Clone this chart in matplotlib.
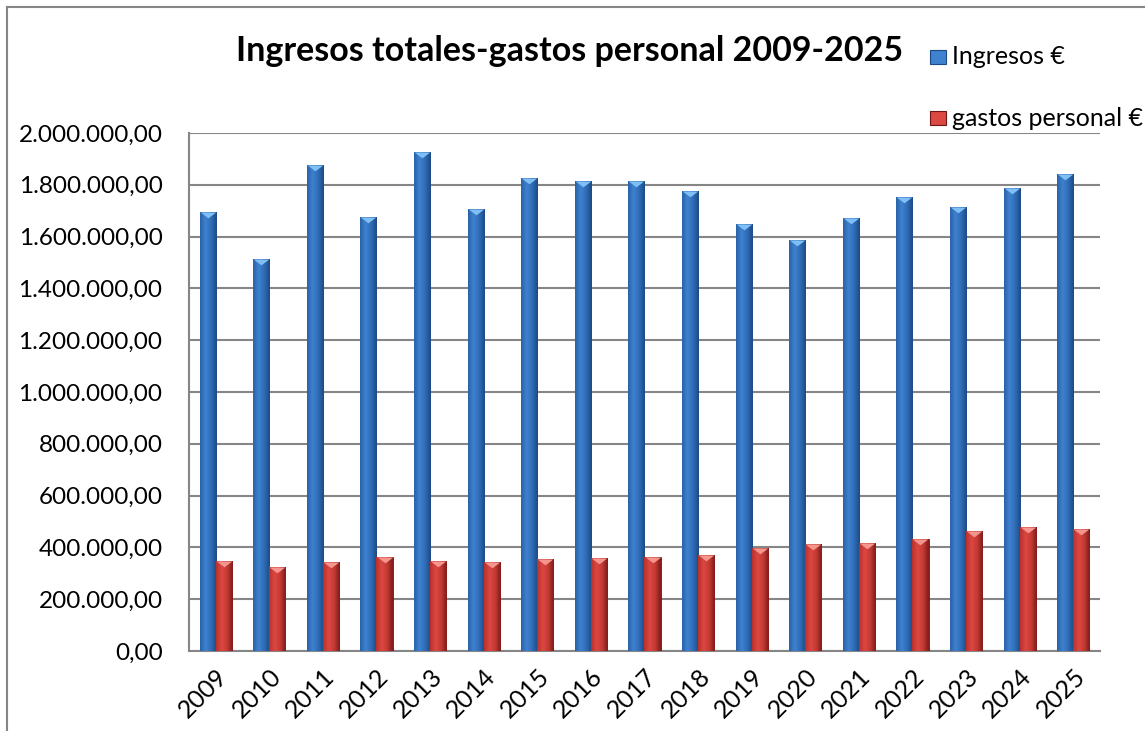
import numpy as np
import matplotlib
matplotlib.use('Agg')
from matplotlib import pyplot as plt
from matplotlib.colors import LinearSegmentedColormap
from matplotlib.ticker import FuncFormatter, MultipleLocator
from matplotlib.patches import Rectangle

plt.rcParams['font.family'] = ['Lato', 'DejaVu Sans']

# Data
years = ['2009', '2010', '2011', '2012', '2013', '2014', '2015', '2016', '2017',
         '2018', '2019', '2020', '2021', '2022', '2023', '2024', '2025']
ingresos = [1696000, 1515000, 1878000, 1676000, 1927000, 1707000, 1826000, 1815000, 1815000,
            1776000, 1649000, 1587000, 1672000, 1754000, 1715000, 1788000, 1843000]
gastos = [346000, 323000, 344000, 362000, 346000, 344000, 354000, 358000, 362000,
          369000, 398000, 413000, 416000, 431000, 462000, 478000, 470000]

title = 'Ingresos totales-gastos personal 2009-2025'
label_ing = 'Ingresos €'
label_gas = 'gastos personal €'

blue_cmap = LinearSegmentedColormap.from_list('b', ['#2a62a8', '#3f82d0', '#2f6cb6', '#1d4a85'])
red_cmap = LinearSegmentedColormap.from_list('r', ['#b8302c', '#dc4842', '#c43a34', '#7e1b1a'])

# flat downward triangle for the bevel at the top of each bar
cap = [(-1, 0), (1, 0), (0, -0.75), (-1, 0)]


def es_fmt(v, pos):
    s = f'{v:,.2f}'
    return s.replace(',', 'X').replace('.', ',').replace('X', '.')


def shade(ax, bars, cmap):
    grad = np.linspace(0, 1, 64).reshape(1, -1)
    for b in bars:
        x0, w, h = b.get_x(), b.get_width(), b.get_height()
        im = ax.imshow(grad, extent=[x0, x0 + w, 0, h], aspect='auto', cmap=cmap,
                       zorder=b.get_zorder() + 0.1, interpolation='bicubic')
        im.set_clip_path(b)


fig = plt.figure(figsize=(11.45, 7.31), dpi=100)
ax = fig.add_axes([0.165, 0.1094, 0.7957, 0.7086])

x = np.arange(len(years))
w = 0.3
b1 = ax.bar(x - w / 2, ingresos, w, color='#2f6cb6', edgecolor='#1d4a85', linewidth=0.6, zorder=3)
b2 = ax.bar(x + w / 2, gastos, w, color='#c43a34', edgecolor='#6e1616', linewidth=0.6, zorder=3)
shade(ax, b1, blue_cmap)
shade(ax, b2, red_cmap)
ax.scatter(x - w / 2, ingresos, marker=cap, s=125, color='#80bff5', linewidths=0, zorder=4)
ax.scatter(x + w / 2, gastos, marker=cap, s=125, color='#f4958e', linewidths=0, zorder=4)

ax.set_xlim(-0.5, len(years) - 0.5)
ax.set_ylim(0, 2000000)
ax.yaxis.set_major_locator(MultipleLocator(200000))
ax.yaxis.set_major_formatter(FuncFormatter(es_fmt))
ax.grid(axis='y', color='#868686', linewidth=1.5, zorder=0)
ax.set_axisbelow(True)
for s in ['top', 'right']:
    ax.spines[s].set_visible(False)
for s in ['left', 'bottom']:
    ax.spines[s].set_color('#868686')
    ax.spines[s].set_linewidth(1.5)
ax.tick_params(axis='y', length=0, pad=19, labelsize=17.5)
ax.tick_params(axis='x', length=0, pad=10, labelsize=18)
ax.set_xticks(x)
ax.set_xticklabels(years, rotation=45, ha='right', rotation_mode='anchor')

fig.text(0.497, 0.930, title, ha='center', va='center', fontsize=24.5, fontweight='bold')

# legend as in the reference: two entries stacked at the top right
fig.patches.append(Rectangle((930 / 1145, 1 - 64 / 731), 16 / 1145, 14 / 731,
                             transform=fig.transFigure, facecolor='#3f82d0', edgecolor='#1d4a85', lw=0.8))
fig.patches.append(Rectangle((930 / 1145, 1 - 125 / 731), 16 / 1145, 14 / 731,
                             transform=fig.transFigure, facecolor='#dc4842', edgecolor='#6e1616', lw=0.8))
fig.text(952 / 1145, 1 - 57 / 731, label_ing, ha='left', va='center', fontsize=18)
fig.text(952 / 1145, 1 - 118 / 731, label_gas, ha='left', va='center', fontsize=18)

# outer chart frame
fig.add_artist(plt.Line2D([7 / 1145, 1], [1 - 7 / 731, 1 - 7 / 731], transform=fig.transFigure,
                          color='#868686', lw=1.5))
fig.add_artist(plt.Line2D([7 / 1145, 7 / 1145], [0, 1 - 7 / 731], transform=fig.transFigure,
                          color='#868686', lw=1.5))

fig.savefig('out.png', dpi=100)
